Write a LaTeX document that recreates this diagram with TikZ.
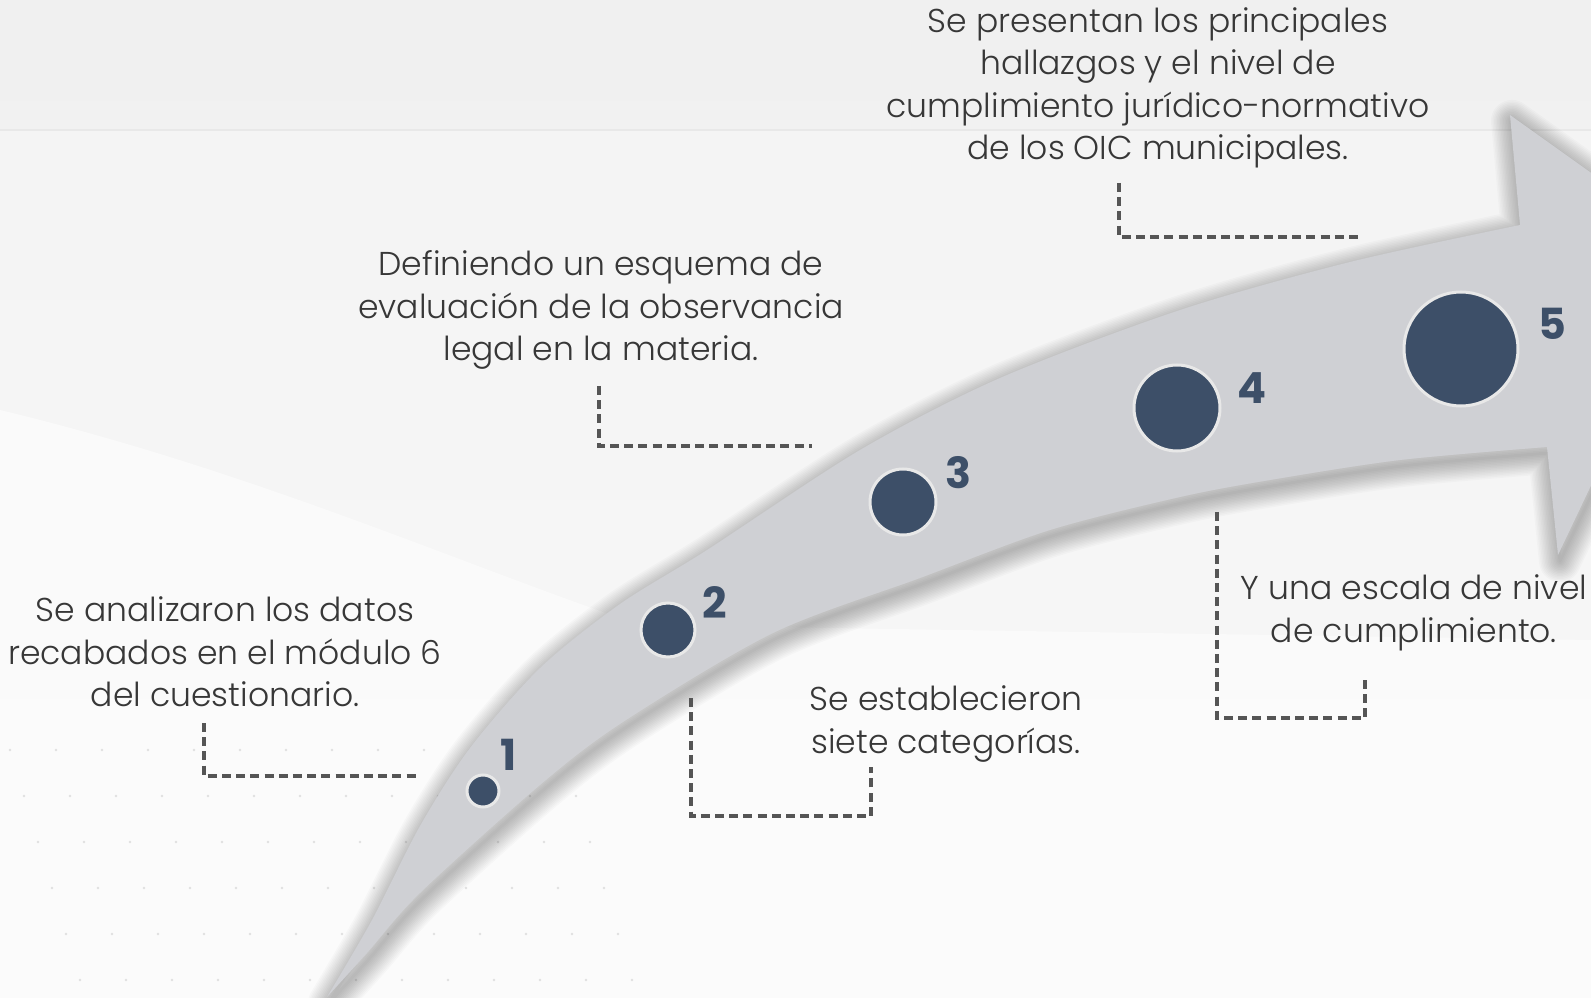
\documentclass[tikz,border=0pt]{standalone}
\usepackage{fontspec}
\setmainfont{Poppins Light}
\newfontfamily\numfont{Poppins}
\usetikzlibrary{calc}

\definecolor{fondo}{RGB}{243,243,243}
\definecolor{fondoclaro}{RGB}{248,248,248}
\definecolor{flechagris}{RGB}{207,208,212}
\definecolor{azulpunto}{RGB}{61,79,104}
\definecolor{aropunto}{RGB}{232,232,232}
\definecolor{textogris}{RGB}{55,55,55}
\definecolor{guiagris}{RGB}{85,85,85}

\newcommand\flecha{plot[smooth] coordinates {(327,997) (372,920) (420,826) (470,748) (540,668) (620,604) (707,550) (860,450) (1000,378) (1180,310) (1350,262) (1520,225)}
 -- (1510,115) -- (1702,252) -- (1558,555) --
 plot[smooth] coordinates {(1547,447) (1400,460) (1270,480) (1180,497) (1050,530) (920,578) (773,633) (623,722) (540,785) (420,893) (367,953) (327,997)} -- cycle}

\begin{document}
\begin{tikzpicture}[x=0.1mm, y=-0.1mm,
  txt/.style={align=center, text=textogris, inner sep=0, font=\fontsize{9.4}{12.1}\selectfont},
  num/.style={text=azulpunto, inner sep=0, font=\numfont\bfseries\fontsize{12.2}{12.2}\selectfont},
  punto/.style={fill=azulpunto, draw=aropunto, line width=0.3mm},
  guia/.style={guiagris, line width=0.9pt, dash pattern=on 0.9mm off 0.52mm}]
\useasboundingbox (0,0) rectangle (1591,998);
\clip (0,0) rectangle (1591,998);
\shade[top color=fondo, bottom color=fondoclaro] (0,0) rectangle (1591,998);
\fill[black, opacity=.012] (0,0) rectangle (1591,130);
\fill[white, opacity=.5] (0,410) .. controls (250,470) and (450,560) .. (640,625) -- (1591,640) -- (1591,998) -- (0,998) -- cycle;
\draw[aropunto, line width=0.3pt] (0,130) -- (1591,130);
\foreach \i in {0,...,12} \foreach \j in {0,...,5}
 \fill[black!12] ({\i*46+\j*14+10}, {750+\j*46}) circle (1.3);

\foreach \w in {3,6,...,42}
 \draw[black, opacity=.021, line width=\w*0.1mm, line join=round, shift={(2,6)}] \flecha;
\fill[flechagris] \flecha;

\foreach \n/\x/\y/\r/\nx/\ny in {1/483/791/16/509/755, 2/668/630/27/715/603, 3/903/502/33/958/473, 4/1177/408/43/1252/388, 5/1461/349/57/1552/324} {
 \draw[punto] (\x,\y) circle (\r) node (p\n) {};
 \node[num] (n\n) at (\nx,\ny) {\n};
}

\node[txt] (analisis) at (225,652) {Se analizaron los datos\\recabados en el módulo 6\\del cuestionario.};
\node[txt] (esquema) at (601,310) {Definiendo un esquema de\\evaluación de la observancia\\legal en la materia.};
\node[txt] (hallazgos) at (1158,88) {Se presentan los principales\\hallazgos y el nivel de\\cumplimiento jurídico-normativo\\de los OIC municipales.};
\node[txt] (categorias) at (946,724) {Se establecieron\\siete categorías.};
\node[txt] (escala) at (1414,613) {Y una escala de nivel\\de cumplimiento.};

\coordinate (a1) at (204,723); \coordinate (a2) at (418,776);
\coordinate (b1) at (599,386); \coordinate (b2) at (812,446);
\coordinate (c1) at (1119,183); \coordinate (c2) at (1360,237);
\coordinate (d1) at (691,698); \coordinate (d2) at (871,767);
\coordinate (e1) at (1217,512); \coordinate (e2) at (1365,678);
\draw[guia] (a1) |- (a2);
\draw[guia] (b1) |- (b2);
\draw[guia] (c1) |- (c2);
\draw[guia] (d1) |- ($(d2)+(0,49)$) -- (d2);
\draw[guia] (e1) |- ($(e2)+(0,40)$) -- (e2);
\end{tikzpicture}
\end{document}
